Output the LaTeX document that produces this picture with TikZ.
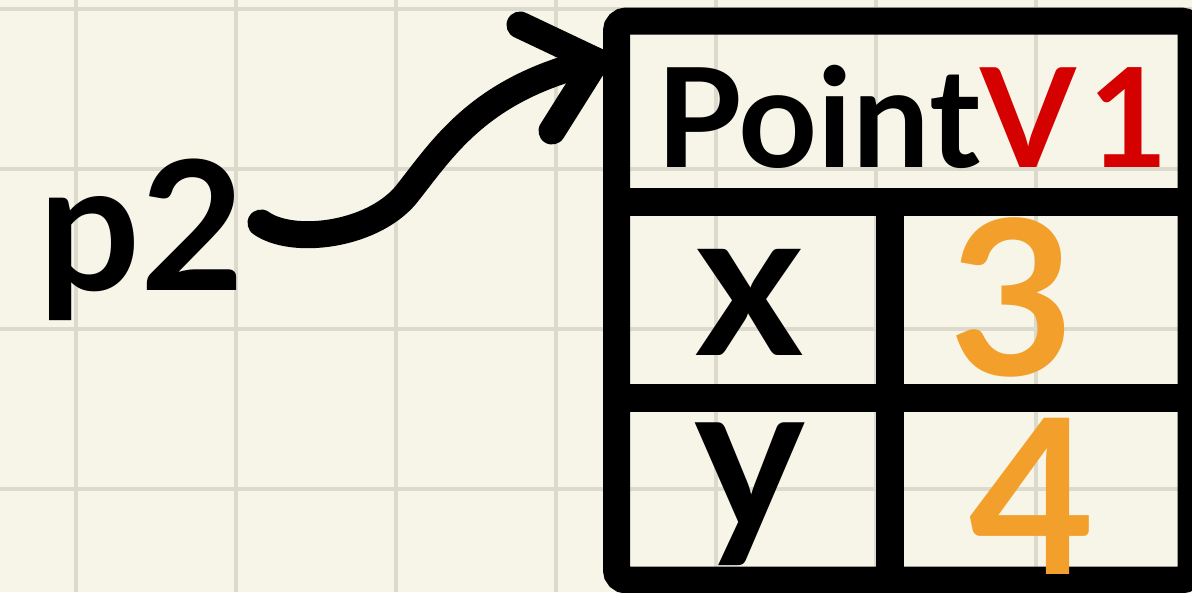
\documentclass[tikz,border=0pt]{standalone}
\usepackage{fontspec}
\setmainfont{Lato}
\definecolor{paper}{HTML}{F7F5E8}
\definecolor{gridc}{HTML}{DCD9CD}
\definecolor{vred}{HTML}{D50000}
\definecolor{vorange}{HTML}{F29F2B}
\tikzset{
  gridline/.style={draw=gridc, line width=4.5pt},
  boxst/.style={draw=black, line width=27pt, rounded corners=10pt, inner sep=0pt},
  divider/.style={draw=black, line width=28pt},
  arrowline/.style={draw=black, line width=27pt, line cap=round, line join=round},
  txt/.style={inner sep=0pt, anchor=base, font=\bfseries},
}
\begin{document}
\begin{tikzpicture}[x=1pt,y=-1pt]
\fill[paper] (0,0) rectangle (1192,592);
\useasboundingbox (0,0) rectangle (1192,592);
% grid
\foreach \gx in {76,236,396,556,716,876,1036} {\draw[gridline] (\gx,0) -- (\gx,592);}
\foreach \gy in {9,169,329,489} {\draw[gridline] (0,\gy) -- (1192,\gy);}
% box
\node[boxst, minimum width=574.5pt, minimum height=559pt] (box) at (903.75,300.5) {};
\draw[divider] (box.west |- 0,202) -- (box.east |- 0,202);
\draw[divider] (box.west |- 0,398) -- (box.east |- 0,398);
\draw[divider] (889.5,202) -- (889.5,580);
% texts
\node[txt, anchor=base west] (title) at (656,167) {\fontsize{138}{138}\selectfont Point\textcolor{vred}{V\hspace{12pt}1}};
\node[txt] (xl) at (750,355) {\fontsize{207}{207}\selectfont x};
\node[txt] (yl) at (750,530) {\fontsize{210}{210}\selectfont y};
\node[txt, text=vorange] (xv) at (1012,375) {\fontsize{216}{216}\selectfont 3};
\node[txt, text=vorange] (yv) at (1032,574) {\fontsize{216}{216}\selectfont 4};
\node[txt, anchor=base west] (p2) at (38,290) {\fontsize{180}{180}\selectfont p2};
% arrow
\coordinate (a0) at (261,223);
\coordinate (tip) at (596,61);
\coordinate (h1) at (520,25);
\coordinate (h2) at (552,131);
\draw[arrowline] (a0) .. controls (292,245) and (370,236) .. (405,196) .. controls (442,150) and (478,88) .. (tip);
\draw[arrowline] (h1) -- (tip) -- (h2);
\end{tikzpicture}
\end{document}
